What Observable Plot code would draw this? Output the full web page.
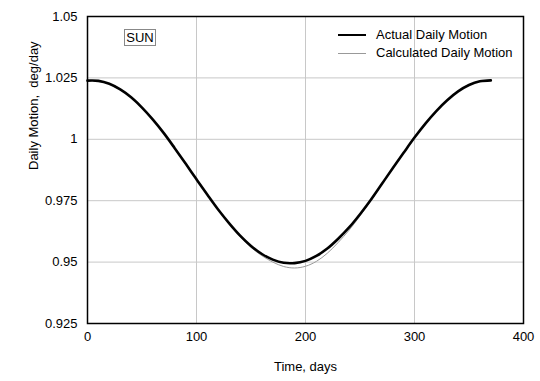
<!DOCTYPE html>
<html>
<head>
<meta charset="utf-8">
<script src="https://cdn.jsdelivr.net/npm/d3@7"></script>
<script src="https://cdn.jsdelivr.net/npm/@observablehq/plot@0.6"></script>
<style>
  body { margin: 0; background: #fff; }
  #wrap { position: relative; width: 540px; height: 381px; font-family: "Liberation Sans", Arial, sans-serif; }
  #legend { position: absolute; left: 338px; top: 26px; font-size: 13px; color: #000; line-height: 18px; }
  #legend .row { display: flex; align-items: center; white-space: nowrap; }
  #legend .sw { display: inline-block; width: 28px; margin-right: 10px; }
  #sun { position: absolute; left: 124px; top: 29px; width: 30px; height: 15px; border: 1px solid #888; font-size: 13px; line-height: 15px; text-align: center; background: #fff; }
</style>
</head>
<body>
<div id="wrap"></div>
<script>
const days = [0,10,20,30,40,50,60,70,80,90,100,110,120,130,140,150,160,170,180,190,200,210,220,230,240,250,260,270,280,290,300,310,320,330,340,350,360,370];
const actual = [1.0239,1.0238,1.0226,1.0203,1.0171,1.0129,1.0080,1.0025,0.9964,0.9901,0.9837,0.9774,0.9713,0.9658,0.9608,0.9566,0.9533,0.9510,0.9497,0.9496,0.9505,0.9525,0.9555,0.9595,0.9641,0.9695,0.9754,0.9818,0.9882,0.9945,1.0007,1.0064,1.0115,1.0159,1.0195,1.0221,1.0236,1.0240];
const calculated = [1.0239,1.0238,1.0226,1.0203,1.0171,1.0129,1.0080,1.0025,0.9964,0.9901,0.9837,0.9774,0.9712,0.9656,0.9604,0.9560,0.9526,0.9500,0.9482,0.9476,0.9483,0.9503,0.9536,0.9580,0.9630,0.9688,0.9750,0.9816,0.9881,0.9945,1.0007,1.0064,1.0115,1.0159,1.0195,1.0221,1.0236,1.0240];
const xTicks = [0,100,200,300,400];
const yTicks = [0.925,0.95,0.975,1,1.025,1.05];
const yTickLabels = ["0.925","0.95","0.975","1","1.025","1.05"];
const seriesNames = ["Actual Daily Motion","Calculated Daily Motion"];
const xTitle = "Time, days";
const yTitle = "Daily Motion,  deg/day";
const boxLabel = "SUN";

const actualData = days.map((d,i) => ({day: d, v: actual[i]}));
const calcData = days.map((d,i) => ({day: d, v: calculated[i]}));

const chart = Plot.plot({
  width: 540,
  height: 381,
  marginLeft: 87,
  marginRight: 17,
  marginTop: 16,
  marginBottom: 58,
  style: {fontFamily: '"Liberation Sans", Arial, sans-serif', fontSize: "13px", color: "#000", background: "#fff"},
  x: {domain: [0, 400]},
  y: {domain: [0.925, 1.05]},
  marks: [
    Plot.gridX(xTicks, {stroke: "#c8c8c8", strokeOpacity: 1}),
    Plot.gridY(yTicks, {stroke: "#c8c8c8", strokeOpacity: 1}),
    Plot.axisX(xTicks, {tickSize: 0, tickPadding: 8, label: null, fontSize: 13}),
    Plot.axisY(yTicks, {tickSize: 0, tickPadding: 10, label: null, fontSize: 13, tickFormat: d => yTickLabels[yTicks.indexOf(d)]}),
    Plot.line(calcData, {x: "day", y: "v", stroke: "#999", strokeWidth: 1, curve: "catmull-rom"}),
    Plot.line(actualData, {x: "day", y: "v", stroke: "#000", strokeWidth: 2.6, curve: "catmull-rom"}),
    Plot.frame({stroke: "#000", strokeWidth: 1.5}),
    Plot.text([xTitle], {frameAnchor: "bottom", dy: 47, fontSize: 13}),
    Plot.text([yTitle], {frameAnchor: "left", dx: -54, rotate: -90, fontSize: 13})
  ]
});

const wrap = document.getElementById("wrap");
wrap.appendChild(chart);

const legend = document.createElement("div");
legend.id = "legend";
legend.innerHTML =
  `<div class="row"><span class="sw" style="border-top:2.6px solid #000"></span>${seriesNames[0]}</div>` +
  `<div class="row"><span class="sw" style="border-top:1px solid #999"></span>${seriesNames[1]}</div>`;
wrap.appendChild(legend);

const sun = document.createElement("div");
sun.id = "sun";
sun.textContent = boxLabel;
wrap.appendChild(sun);
</script>
</body>
</html>
